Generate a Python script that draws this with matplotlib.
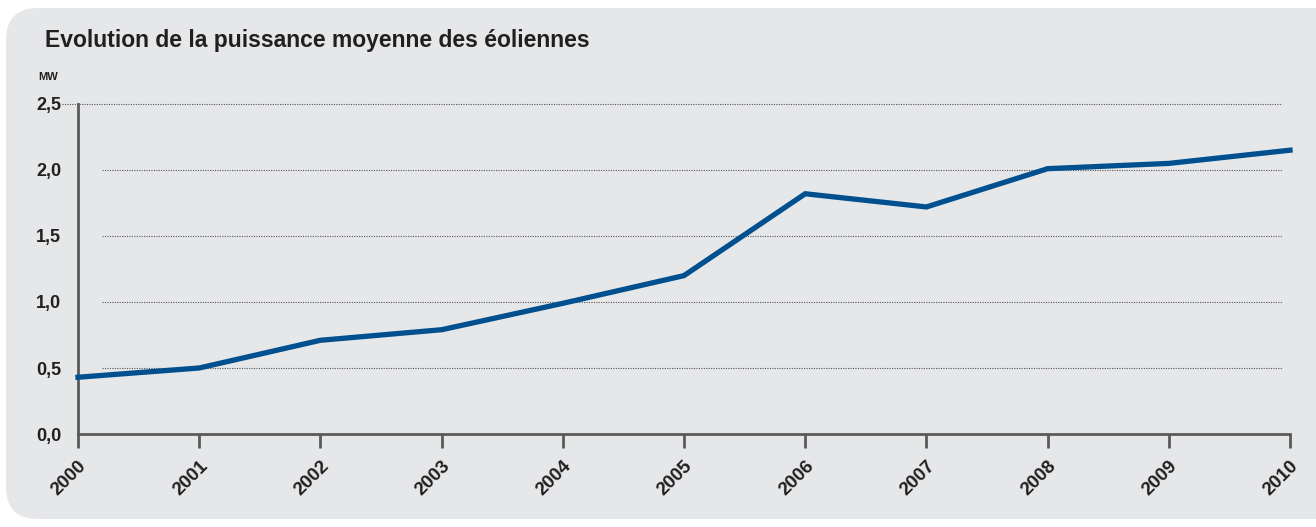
import matplotlib
matplotlib.use("Agg")
import matplotlib.pyplot as plt
from matplotlib.patches import FancyBboxPatch

years = [2000, 2001, 2002, 2003, 2004, 2005, 2006, 2007, 2008, 2009, 2010]
power_mw = [0.43, 0.50, 0.71, 0.79, 0.99, 1.20, 1.82, 1.72, 2.01, 2.05, 2.15]
y_ticks = [0.0, 0.5, 1.0, 1.5, 2.0, 2.5]
y_labels = ["0,0", "0,5", "1,0", "1,5", "2,0", "2,5"]

plt.rcParams['font.family'] = ['Liberation Sans', 'DejaVu Sans']

W, H = 1316, 527
fig = plt.figure(figsize=(W / 100, H / 100), dpi=100)
fig.patch.set_facecolor("white")

# rounded grey panel behind everything, in pixel coords
bg_ax = fig.add_axes([0, 0, 1, 1], zorder=-1)
bg_ax.set_xlim(0, W)
bg_ax.set_ylim(H, 0)
bg_ax.axis("off")
bg_ax.add_patch(FancyBboxPatch((6, 8), W + 40, H - 16,
                               boxstyle="round,pad=0,rounding_size=32",
                               facecolor="#e6e7e9", edgecolor="none"))

ax = fig.add_axes([78 / W, 1 - 434 / H, 1212 / W, 330 / H])
ax.set_facecolor("none")

for v in y_ticks[1:]:
    start = -0.013 if v == 2.5 else 0.02
    ax.axhline(v, xmin=start, xmax=0.993, color="#555555", lw=0.8,
               ls=(0, (1, 1.2)), clip_on=False, zorder=1)

ax.plot(years, power_mw, color="#00508f", lw=3.8, solid_joinstyle="miter",
        zorder=3, clip_on=False)

ax.set_xlim(2000, 2010)
ax.set_ylim(0, 2.5)
ax.set_xticks(years)
ax.set_xticklabels([str(y) for y in years], rotation=45, ha="right",
                   rotation_mode="anchor", fontsize=13.5, fontweight="bold",
                   color="#231f20")
ax.set_yticks(y_ticks)
ax.set_yticklabels(y_labels, fontsize=13, fontweight="bold", color="#231f20")

for s in ["top", "right"]:
    ax.spines[s].set_visible(False)
for s in ["left", "bottom"]:
    ax.spines[s].set_color("#5a5a5a")
    ax.spines[s].set_linewidth(2)
ax.tick_params(axis="x", length=10, width=2, color="#5a5a5a", pad=7)
ax.tick_params(axis="y", length=0, pad=12)

fig.text(45 / W, 1 - 40 / H, "Evolution de la puissance moyenne des éoliennes",
         fontsize=16.5, fontweight="bold", color="#231f20", va="center")
fig.text(38 / W, 1 - 77 / H, "MW", fontsize=8, fontweight="bold",
         color="#231f20", va="center")

fig.savefig("out.png", dpi=100)
